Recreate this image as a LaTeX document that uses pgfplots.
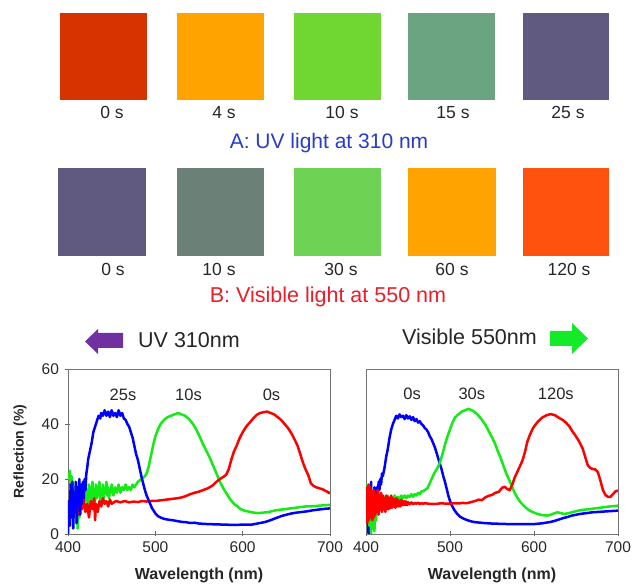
\documentclass[border=0pt]{standalone}
\usepackage{fontspec}
\setmainfont{Liberation Sans}
\usepackage{pgfplots}
\pgfplotsset{compat=1.18}

\definecolor{aZero}{RGB}{214,51,0}
\definecolor{aFour}{RGB}{255,163,0}
\definecolor{aTen}{RGB}{112,214,50}
\definecolor{aFifteen}{RGB}{106,164,128}
\definecolor{violetgray}{RGB}{96,90,128}
\definecolor{bTen}{RGB}{107,128,118}
\definecolor{bThirty}{RGB}{110,210,85}
\definecolor{bSixty}{RGB}{255,163,0}
\definecolor{bOneTwenty}{RGB}{255,82,15}
\definecolor{labelblue}{RGB}{40,60,200}
\definecolor{labelred}{RGB}{232,30,40}
\definecolor{arrowpurple}{RGB}{112,48,160}
\definecolor{arrowgreen}{RGB}{20,235,40}
\definecolor{specblue}{RGB}{0,0,255}
\definecolor{specgreen}{RGB}{20,235,20}
\definecolor{specred}{RGB}{255,0,0}

\pgfplotsset{
  spectrum/.style={
    scale only axis,
    xmin=400, xmax=700, ymin=0, ymax=60,
    xtick={400,500,600,700},
    axis line style={black!55, line width=0.8pt},
    tick style={black!60, line width=0.8pt},
    major tick length=5pt,
    tick align=center,
    xtick pos=left, ytick pos=left,
    ticklabel style={font=\fontsize{15.5}{17}\selectfont, text=black!85},
    /pgf/number format/assume math mode=true,
    xticklabel style={yshift=-2pt},
    xlabel={\bfseries Wavelength (nm)},
    xlabel style={at={(axis description cs:0.5,0)}, anchor=center, yshift=-41pt,
      font=\fontsize{16}{18}\selectfont, text=black!85},
    every axis plot/.append style={line width=2.5pt, line join=round},
  },
}
\tikzset{peak/.style={font=\fontsize{16.5}{18}\selectfont, text=black!85}}

\begin{document}
\begin{tikzpicture}[x=1pt,y=1pt]
\useasboundingbox (0,0) rectangle (632,586);

% row A swatches
\fill[aZero]      (60,486)  rectangle (147,573);
\fill[aFour]      (177,486) rectangle (264,573);
\fill[aTen]       (294,486) rectangle (381,573);
\fill[aFifteen]   (408,486) rectangle (495,573);
\fill[violetgray] (523,486) rectangle (609,573);
\begin{scope}[every node/.style={font=\fontsize{17.5}{19}\selectfont, text=black!85, anchor=base}]
\node at (112,467) {0 s};
\node at (224,467) {4 s};
\node at (342,467) {10 s};
\node at (453,467) {15 s};
\node at (568,467) {25 s};
\end{scope}
\node[font=\fontsize{21}{23}\selectfont, text=labelblue] at (329,443) {A: UV light at 310 nm};

% row B swatches
\fill[violetgray] (58,330)  rectangle (146,418);
\fill[bTen]       (177,330) rectangle (264,418);
\fill[bThirty]    (294,330) rectangle (381,418);
\fill[bSixty]     (408,330) rectangle (496,418);
\fill[bOneTwenty] (523,330) rectangle (609,418);
\begin{scope}[every node/.style={font=\fontsize{17.5}{19}\selectfont, text=black!85, anchor=base}]
\node at (113,310) {0 s};
\node at (219,310) {10 s};
\node at (341,310) {30 s};
\node at (452,310) {60 s};
\node at (569,310) {120 s};
\end{scope}
\node[font=\fontsize{21.5}{23}\selectfont, text=labelred] at (328,289) {B: Visible light at 550 nm};

% direction arrows
\fill[arrowpurple] (123,253) -- (98,253) -- (98,257) -- (85,244.5) -- (98,232) -- (98,238) -- (123,238) -- cycle;
\node[anchor=west, inner sep=0pt, font=\fontsize{21.5}{23}\selectfont, text=black!85] at (138,246) {UV 310nm};
\fill[arrowgreen] (550,255) -- (572,255) -- (572,263) -- (588,247.5) -- (572,232) -- (572,240) -- (550,240) -- cycle;
\node[anchor=west, inner sep=0pt, font=\fontsize{21.5}{23}\selectfont, text=black!85] at (402,249) {Visible 550nm};

% left: UV 310 nm
\begin{axis}[spectrum,
  at={(68pt,52pt)}, anchor=south west, width=262pt, height=165pt,
  ytick={0,20,40,60},
  yticklabel style={xshift=-3pt},
  ylabel={\bfseries Reflection (\%)},
  ylabel style={at={(axis description cs:-0.183,0.5)}, anchor=center,
    font=\fontsize{14}{16}\selectfont, text=black!85},
]
\addplot[specgreen] coordinates {
(400,22)(401,20)(402,23)(403,17)(404,21)(405,14)(406,19)(407,8)(408,16)(409,4)(410,12)(411,2)(412,10)(413,6)(414,14)(415,9)(416,16)(417,11)(418,17)(419,13)(420,19)(421,12)(422,16)(423,10)(424,18)(425,13)(426,17)(427,11)(428,19)(429,14)(430,16)(431,12)(432,18)(433,13)(434,17)(435,14)(436,19)(437,12)(438,16)(439,14)(440,18)(441,13)(442,16)(443,15)(444,19)(445,14)(446,17)(447,13)(448,16)(449,15)(450,18)(452,14)(454,17)(456,15)(458,18)(460,15)(462,17)(464,16)(466,18)(468,16)(470,17)(472,16)(474,18)(476,17)(478,18)(480,19)(482,19.5)(484,20)(486,20.5)(488,21)(490,22)(492,24)(494,27)(496,30)(498,33)(500,35.5)(503,38)(506,40)(510,41.5)(514,42.5)(518,43)(522,43.5)(526,44)(530,43.5)(534,43)(538,42)(542,40.5)(546,38.5)(550,36)(554,33)(558,30.5)(562,28)(566,25)(570,22)(574,19)(578,16.5)(582,14.5)(586,12.5)(590,11)(594,10)(598,9)(602,8.5)(606,8.2)(612,7.8)(618,7.6)(624,7.8)(630,8)(636,8.5)(642,8.8)(648,9)(654,9.3)(660,9.5)(666,9.8)(672,10)(680,10.1)(688,10.3)(694,10.5)(700,10.6)
};
\addplot[specred] coordinates {
(410,10)(412,7)(414,12)(416,9)(418,13)(420,8)(422,11)(424,6)(426,12)(428,9)(430,13)(431,5)(432,11)(434,8)(436,12)(438,10)(440,13)(442,11)(444,12)(446,10)(448,12.5)(450,11)(455,12)(460,11.5)(465,12)(470,11.5)(475,11.8)(480,11.6)(485,12)(490,11.8)(495,12)(500,12)(505,12.2)(510,12.4)(515,12.6)(520,12.8)(525,13)(530,13.3)(535,13.8)(540,14.5)(545,15)(550,15.4)(555,16)(560,16.6)(565,17.5)(570,19)(574,20)(578,20.8)(581,21.5)(584,23.5)(587,27)(590,30)(593,32)(596,34.5)(600,37)(604,39)(608,40.5)(612,42)(616,43.3)(620,44)(624,44.3)(628,44.5)(632,44)(636,43.5)(640,42.5)(644,41.5)(648,40)(652,38.5)(656,36.5)(660,34)(663,32)(666,29)(669,26)(672,23.5)(675,21.5)(678,18.5)(681,17.5)(684,17)(688,16.6)(692,16.2)(696,15.5)(700,14.8)
};
\addplot[specblue] coordinates {
(400,0)(401,12)(402,3)(403,18)(404,6)(405,19)(406,2)(407,15)(408,8)(409,19)(410,4)(411,17)(412,10)(413,20)(414,7)(415,18)(416,11)(417,19)(418,13)(419,20)(420,16)(421,22)(422,24)(423,27)(425,30)(427,33)(429,37)(431,39)(433,41)(435,43)(437,42)(438,44)(440,43)(442,45)(444,43)(446,44.5)(448,42.5)(450,45)(452,43)(454,44)(456,42.5)(458,45)(460,43)(462,44)(464,42)(466,41.5)(468,40)(470,39)(472,37)(474,35)(476,32)(478,29)(480,27)(482,24)(484,21)(486,18.5)(488,16)(490,14)(492,12.5)(494,11)(496,9.5)(498,8.5)(500,7.5)(503,6.5)(506,6)(510,5.5)(515,5.2)(520,5)(525,4.7)(530,4.4)(535,4.3)(540,4)(545,4.1)(550,3.8)(560,3.6)(570,3.5)(580,3.4)(590,3.3)(600,3.4)(610,3.4)(615,3.7)(620,4)(625,4.3)(630,4.8)(635,5.4)(640,6)(645,6.6)(650,7)(655,7.4)(660,7.7)(665,7.9)(670,8.1)(675,8.3)(680,8.6)(685,8.8)(690,9)(695,9.2)(700,9.3)
};
\node[peak] at (axis cs:463,50.5) {25s};
\node[peak] at (axis cs:538,50.5) {10s};
\node[peak] at (axis cs:633,50.5) {0s};
\end{axis}

% right: visible 550 nm
\begin{axis}[spectrum,
  at={(366pt,52pt)}, anchor=south west, width=252pt, height=165pt,
  ytick=\empty,
]
\addplot[specblue] coordinates {
(400,18)(401,4)(402,14)(403,0)(404,16)(405,6)(406,19)(407,2)(408,13)(409,8)(410,17)(411,5)(412,15)(413,17)(414,12)(415,19)(416,16)(417,20)(418,18)(419,22)(420,21)(422,24)(424,28)(426,31)(428,35)(430,38)(432,40)(434,41.5)(436,43)(438,42)(440,43.5)(442,42.5)(444,43)(446,41.8)(448,43.2)(450,42)(452,42.8)(454,41.5)(456,42.5)(458,41)(460,41.8)(462,40.5)(464,41)(466,40)(468,39.5)(470,38.5)(472,38)(474,37)(476,35.5)(478,34.5)(480,33)(482,31.5)(484,29.5)(486,27.5)(488,25.5)(490,23.5)(492,21)(494,19)(496,16.5)(498,14)(500,12)(502,10.5)(505,8.8)(508,7.5)(512,6.3)(516,5.6)(520,5.1)(525,4.6)(530,4.3)(540,4)(550,3.8)(560,3.7)(570,3.6)(580,3.6)(590,3.6)(600,3.6)(610,3.9)(620,4.4)(625,4.8)(630,5.3)(635,5.8)(640,6.2)(645,6.7)(650,7)(655,7.3)(660,7.5)(665,7.7)(670,7.9)(680,8.1)(690,8.3)(700,8.5)
};
\addplot[specgreen] coordinates {
(400,12)(401,18)(402,6)(403,14)(404,3)(405,10)(406,0)(407,8)(408,2)(409,11)(410,1)(411,9)(412,5)(413,12)(414,8)(415,13)(416,10)(418,14)(420,11)(422,13.5)(424,11.5)(426,14)(428,12)(430,13.5)(432,12)(434,14)(436,12.5)(438,13.5)(440,12.5)(442,14)(444,13)(446,14)(448,13)(450,14)(452,13.5)(454,14.5)(456,13.5)(458,14.5)(460,14)(462,15)(464,14.5)(466,15.5)(468,15.5)(470,16)(473,16.6)(476,18.5)(479,20.6)(482,22.5)(485,24)(488,26)(491,29)(494,32.5)(497,35.5)(500,38)(503,40.5)(506,42.4)(510,43.5)(514,44.5)(518,45)(522,45.5)(526,45)(530,44.2)(534,43)(538,41.5)(542,39.8)(546,37.5)(550,35.2)(554,32.5)(557,30)(560,27.9)(564,24.5)(567,22)(570,20)(574,17)(577,15)(580,13.3)(584,11.5)(588,10.2)(592,9.1)(596,8.3)(600,7.8)(604,7.3)(608,7)(612,6.8)(616,6.7)(620,7)(624,7.5)(628,7.9)(632,7.6)(636,7.3)(640,7.5)(645,7.9)(650,8.3)(656,8.7)(662,8.9)(668,9.1)(672,9.3)(680,9.6)(690,10)(700,10.3)
};
\addplot[specred] coordinates {
(400,14)(400.5,6)(401,17)(401.5,4)(402,16)(402.5,7)(403,18)(403.5,5)(404,15)(404.5,8)(405,17)(405.5,6)(406,16)(406.5,7)(407,15)(407.5,5)(408,14)(408.5,8)(409,16)(409.5,6)(410,15)(411,7)(412,14)(413,8)(414,16)(415,7)(416,14)(417,9)(418,15)(419,8)(420,14)(421,9)(422,13)(423,8)(424,14)(425,9)(426,13.5)(427,9)(428,13)(429,9.5)(430,14)(431,9.5)(432,13)(433,10)(434,12.5)(435,9.5)(436,13)(437,10)(438,12.5)(439,10)(440,12)(441,10)(442,12.5)(443,10.5)(444,12)(445,10.5)(446,12)(447,10.5)(448,11.8)(449,10.5)(450,11.6)(452,10.8)(454,11.5)(456,10.8)(458,11.3)(460,11)(462,11.4)(464,10.9)(466,11.2)(468,11)(470,11.2)(475,11)(480,10.9)(485,11)(490,11.2)(495,11)(500,11)(505,11.2)(510,11.1)(515,11.3)(520,11.2)(525,11.6)(530,12)(534,12.5)(538,12.3)(542,13.3)(546,13.9)(550,14.2)(554,15)(558,15.3)(562,16.8)(565,17.2)(568,16.4)(571,15.9)(574,17.8)(577,20.5)(580,22.5)(583,24.5)(586,26.5)(589,29.5)(592,33.5)(595,36)(598,38)(601,39.5)(605,41)(610,42.4)(615,43.2)(620,43.6)(625,43.2)(630,42.2)(634,41.5)(638,40.5)(642,39.2)(646,37.2)(650,35.5)(654,33.5)(658,31)(661,28)(664,25)(667,24)(670,23.6)(673,23.5)(676,22.5)(679,19.5)(682,16)(685,14.2)(688,13.5)(691,13.5)(694,14.5)(697,15.5)(700,15.8)
};
\node[peak] at (axis cs:455,50.9) {0s};
\node[peak] at (axis cs:526,50.9) {30s};
\node[peak] at (axis cs:626,50.9) {120s};
\end{axis}
\end{tikzpicture}
\end{document}
